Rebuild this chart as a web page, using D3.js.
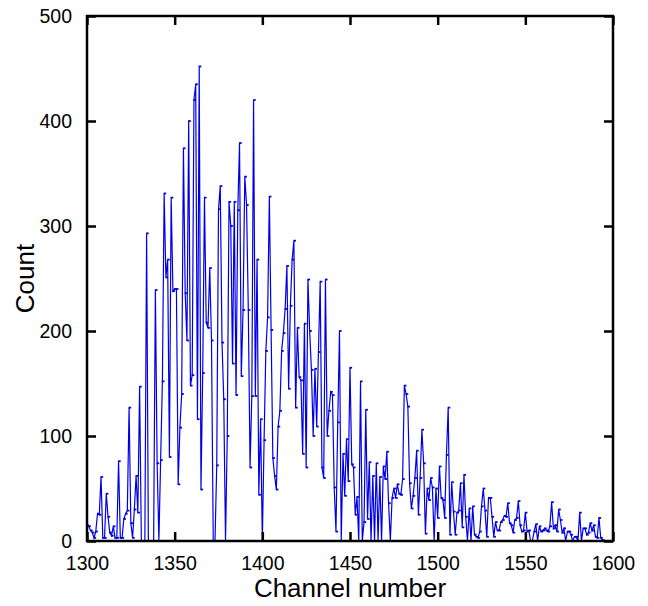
<!DOCTYPE html>
<html>
<head>
<meta charset="utf-8">
<script src="https://cdn.jsdelivr.net/npm/d3@7"></script>
<style>
  body { margin: 0; background: #fff; }
  svg text { font-family: "Liberation Sans", Arial, sans-serif; fill: #000; }
</style>
</head>
<body>
<svg id="canvas" width="648" height="606"></svg>
<script>
// channel of the first count, one count per channel after that
const firstChannel = 1300

const counts = [
    15, 14, 10, 8, 3, 9, 26, 25, 61, 3,
    3, 45, 23, 8, 5, 14, 3, 3, 76, 3,
    3, 21, 26, 29, 127, 17, 3, 30, 62, 27,
    147, 0, 0, 0, 293, 0, 0, 0, 0, 239,
    74, 0, 77, 152, 331, 251, 268, 80, 327, 238,
    240, 240, 54, 108, 140, 374, 236, 191, 400, 148,
    158, 420, 435, 116, 452, 49, 160, 327, 208, 203,
    260, 191, 0, 0, 72, 316, 338, 189, 135, 0,
    100, 323, 300, 169, 323, 139, 315, 379, 157, 220,
    347, 320, 220, 70, 138, 420, 138, 268, 44, 116,
    0, 96, 181, 213, 328, 201, 79, 62, 49, 109,
    124, 181, 198, 221, 262, 145, 224, 268, 286, 127,
    203, 156, 153, 83, 207, 70, 249, 200, 163, 100,
    164, 109, 180, 247, 70, 60, 249, 100, 124, 142,
    139, 51, 9, 113, 200, 0, 83, 43, 97, 57,
    165, 73, 70, 25, 42, 0, 152, 0, 18, 125,
    21, 75, 0, 62, 0, 74, 0, 61, 0, 71,
    59, 85, 36, 0, 41, 50, 41, 54, 45, 44,
    59, 148, 140, 128, 55, 31, 43, 60, 86, 25,
    60, 106, 74, 7, 50, 39, 60, 51, 0, 50,
    22, 71, 41, 39, 22, 82, 127, 6, 56, 28,
    6, 27, 29, 55, 13, 63, 23, 0, 31, 0,
    33, 6, 4, 3, 9, 33, 50, 29, 4, 41,
    41, 23, 4, 18, 10, 10, 18, 20, 24, 23,
    36, 17, 15, 8, 20, 22, 38, 15, 9, 10,
    27, 9, 10, 0, 0, 9, 16, 0, 14, 9,
    10, 12, 10, 9, 14, 37, 12, 15, 9, 30,
    20, 8, 12, 0, 9, 9, 6, 0, 4, 4,
    0, 27, 0, 12, 12, 6, 8, 17, 10, 15,
    4, 3, 22, 3, 1
]

const xTicks = [1300, 1350, 1400, 1450, 1500, 1550, 1600]
const yTicks = [0, 100, 200, 300, 400, 500]

const xLabel = 'Channel number'
const yLabel = 'Count'

const margin = { top: 16, right: 35, bottom: 65, left: 87 }
const width = 648, height = 606
const lineColor = '#0000e6'

const svg = d3.select('#canvas')

const x = d3.scaleLinear()
    .domain([1300, 1600])
    .range([margin.left, width - margin.right])
const y = d3.scaleLinear()
    .domain([0, 500])
    .range([height - margin.bottom, margin.top])

const points = counts.map((c, i) => ({ channel: firstChannel + i, count: c }))

// data line
const line = d3.line()
    .x(d => x(d.channel))
    .y(d => y(d.count))

svg.append('path')
    .datum(points)
    .attr('fill', 'none')
    .attr('stroke', lineColor)
    .attr('stroke-width', 1.2)
    .attr('stroke-linejoin', 'miter')
    .attr('d', line)

// little point markers
svg.selectAll('rect.pt')
    .data(points)
    .enter()
    .append('rect')
    .attr('class', 'pt')
    .attr('x', d => x(d.channel) - 0.5)
    .attr('y', d => y(d.count) - 0.9)
    .attr('width', 2.6)
    .attr('height', 1.8)
    .attr('fill', lineColor)

// axes, ticks pointing inward on all four sides
const tickLen = 9
const styleAxis = g => {
    g.select('.domain').remove()
    g.selectAll('.tick line').attr('stroke', '#000').attr('stroke-width', 2.5)
    g.selectAll('.tick text')
        .attr('font-size', '19.5px')
        .attr('font-family', '"Liberation Sans", Arial, sans-serif')
}

svg.append('g')
    .attr('transform', `translate(0,${y(0)})`)
    .call(d3.axisBottom(x).tickValues(xTicks).tickFormat(d3.format('d'))
        .tickSize(-tickLen).tickPadding(15))
    .call(styleAxis)

svg.append('g')
    .attr('transform', `translate(0,${y(500)})`)
    .call(d3.axisTop(x).tickValues(xTicks).tickFormat('')
        .tickSize(-tickLen))
    .call(styleAxis)

svg.append('g')
    .attr('transform', `translate(${x(1300)},0)`)
    .call(d3.axisLeft(y).tickValues(yTicks).tickFormat(d3.format('d'))
        .tickSize(-tickLen).tickPadding(15))
    .call(styleAxis)

svg.append('g')
    .attr('transform', `translate(${x(1600)},0)`)
    .call(d3.axisRight(y).tickValues(yTicks).tickFormat('')
        .tickSize(-tickLen))
    .call(styleAxis)

// frame
svg.append('rect')
    .attr('x', x(1300))
    .attr('y', y(500))
    .attr('width', x(1600) - x(1300))
    .attr('height', y(0) - y(500))
    .attr('fill', 'none')
    .attr('stroke', '#000')
    .attr('stroke-width', 2.5)

// axis titles
svg.append('text')
    .attr('x', (x(1300) + x(1600)) / 2)
    .attr('y', 597)
    .attr('text-anchor', 'middle')
    .attr('font-size', '26px')
    .text(xLabel)

svg.append('text')
    .attr('transform', `translate(34,${(y(0) + y(500)) / 2}) rotate(-90)`)
    .attr('text-anchor', 'middle')
    .attr('font-size', '26px')
    .text(yLabel)
</script>
</body>
</html>
